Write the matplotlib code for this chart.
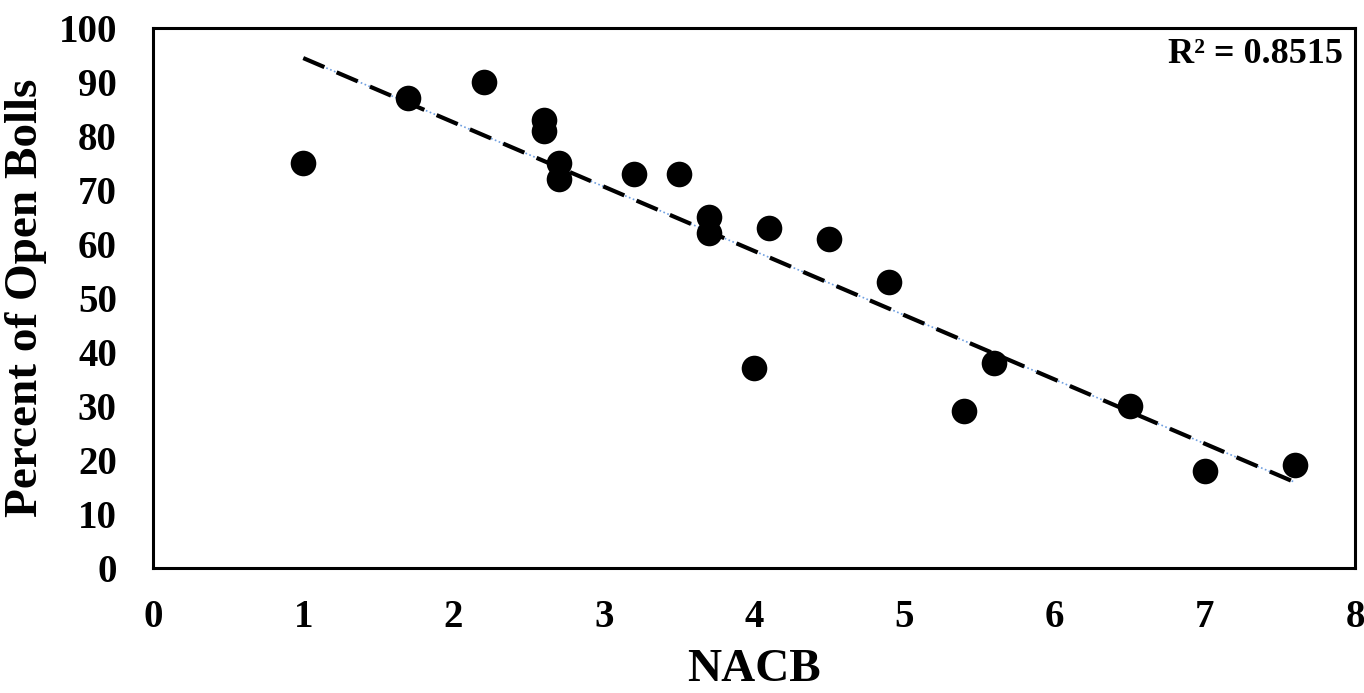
import numpy as np
import matplotlib
matplotlib.use('Agg')
import matplotlib.pyplot as plt

# NACB vs percent of open bolls
nacb = [1.0, 1.7, 2.2, 2.6, 2.6, 2.7, 2.7, 3.2, 3.5, 3.7, 3.7, 4.1, 4.0, 4.5, 4.9, 5.4, 5.6, 6.5, 7.0, 7.6]
open_bolls = [75, 87, 90, 83, 81, 75, 72, 73, 73, 65, 62, 63, 37, 61, 53, 29, 38, 30, 18, 19]
r2_text = 'R² = 0.8515'

plt.rcParams['font.family'] = ['Liberation Serif', 'DejaVu Serif']
plt.rcParams['font.weight'] = 'bold'

fig = plt.figure(figsize=(13.64, 6.93), dpi=100)
ax = fig.add_axes([0.1122, 0.1804, 0.8812, 0.7792])

x = np.array(nacb)
y = np.array(open_bolls)
ax.scatter(x, y, s=340, color='black', zorder=3, linewidths=0)

# linear trendline
k, b = np.polyfit(x, y, 1)
xl = np.array([x.min(), x.max()])
ax.plot(xl, k * xl + b, color='#6f9fe0', lw=1.2, ls=(0, (1, 1.5)), zorder=2)
ax.plot(xl, k * xl + b, color='black', lw=3.0, ls=(0, (5.5, 3.2)), zorder=2)

ax.set_xlim(0, 8)
ax.set_ylim(0, 100)
ax.set_xticks(range(0, 9))
ax.set_yticks(range(0, 101, 10))
ax.tick_params(axis='both', length=0, labelsize=28)
ax.tick_params(axis='y', pad=26)
ax.tick_params(axis='x', pad=22)
for lab in ax.get_xticklabels() + ax.get_yticklabels():
    lab.set_fontweight('bold')
for s in ax.spines.values():
    s.set_linewidth(2.2)

ax.set_xlabel('NACB', fontsize=34, fontweight='bold', labelpad=10)
ax.set_ylabel('Percent of Open Bolls', fontsize=34, fontweight='bold', labelpad=8)
ax.text(0.99, 0.95, r2_text, transform=ax.transAxes, ha='right', va='center',
        fontsize=26, fontweight='bold')

fig.savefig('out.png', dpi=100)
